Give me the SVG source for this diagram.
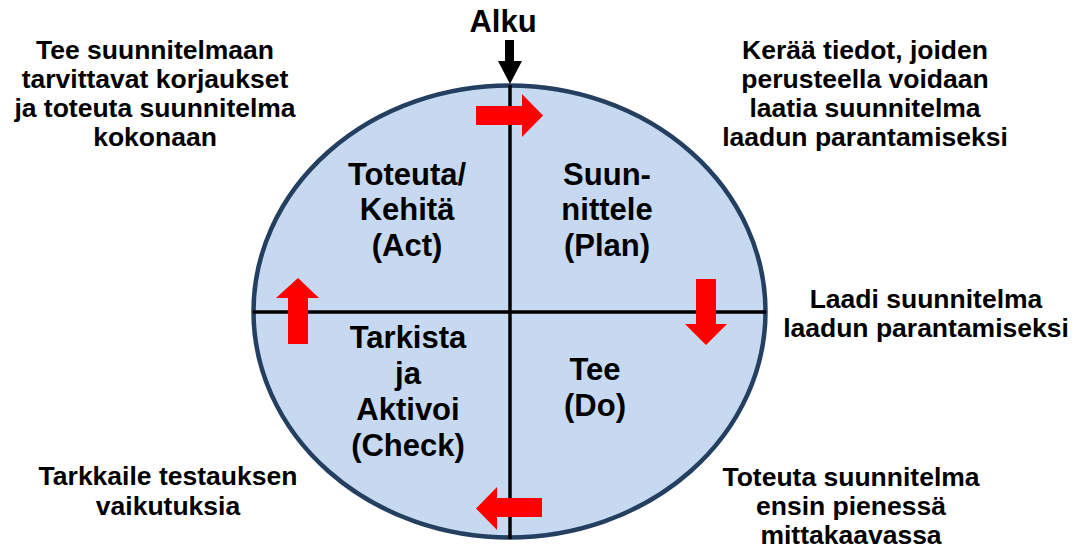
<svg xmlns="http://www.w3.org/2000/svg" width="1081" height="551" viewBox="0 0 1081 551">
  <style>
    .lbl { font-family: "Liberation Sans", Arial, sans-serif; font-weight: bold; font-size: 26.5px; fill: #000; text-anchor: middle; }
    .quad { font-family: "Liberation Sans", Arial, sans-serif; font-weight: bold; font-size: 31px; fill: #000; text-anchor: middle; }
    .title { font-family: "Liberation Sans", Arial, sans-serif; font-weight: bold; font-size: 31px; fill: #000; text-anchor: middle; }
    .red { fill: #FF0000; }
    .axis { stroke: #000; stroke-width: 3.5; fill: none; }
  </style>

  <!-- PDCA cycle -->
  <g id="cycle">
    <ellipse cx="509.5" cy="311.5" rx="256" ry="226" fill="#C6D9F1" stroke="#243F60" stroke-width="4.5"/>
  </g>

  <g id="connectors">
    <line class="axis" x1="510" y1="85" x2="510" y2="539"/>
    <line class="axis" x1="253" y1="312" x2="766" y2="312"/>
    <!-- start arrow -->
    <polygon fill="#000" points="505,40 514,40 514,61 522,61 510,84 498,61 505,61"/>
    <!-- direction arrows -->
    <polygon class="red" points="476,106 522,106 522,94 543,115.5 522,137 522,125 476,125"/>
    <polygon class="red" points="696,279 716,279 716,324 727,324 706,345 685,324 696,324"/>
    <polygon class="red" points="542,498 542,517 497,517 497,530 476,508.5 497,487 497,498"/>
    <polygon class="red" points="288,344 308,344 308,298 319,298 298,278 276,298 288,298"/>
  </g>

  <g id="start">
    <text class="title" x="503" y="32">Alku</text>
  </g>

  <g id="act">
    <text class="quad" x="407" y="185">Toteuta/</text>
    <text class="quad" x="407" y="220">Kehitä</text>
    <text class="quad" x="407" y="256">(Act)</text>
  </g>

  <g id="plan">
    <text class="quad" x="607" y="185">Suun-</text>
    <text class="quad" x="607" y="220">nittele</text>
    <text class="quad" x="607" y="256">(Plan)</text>
  </g>

  <g id="check">
    <text class="quad" x="408" y="348">Tarkista</text>
    <text class="quad" x="408" y="384">ja</text>
    <text class="quad" x="408" y="420">Aktivoi</text>
    <text class="quad" x="408" y="456">(Check)</text>
  </g>

  <g id="do">
    <text class="quad" x="595" y="380">Tee</text>
    <text class="quad" x="595" y="416">(Do)</text>
  </g>

  <g id="note-act">
    <text class="lbl" x="155" y="59">Tee suunnitelmaan</text>
    <text class="lbl" x="155" y="88">tarvittavat korjaukset</text>
    <text class="lbl" x="155" y="117">ja toteuta suunnitelma</text>
    <text class="lbl" x="155" y="146">kokonaan</text>
  </g>

  <g id="note-plan">
    <text class="lbl" x="865" y="59">Kerää tiedot, joiden</text>
    <text class="lbl" x="865" y="88">perusteella voidaan</text>
    <text class="lbl" x="865" y="117">laatia suunnitelma</text>
    <text class="lbl" x="865" y="146">laadun parantamiseksi</text>
  </g>

  <g id="note-plan2">
    <text class="lbl" x="926" y="308">Laadi suunnitelma</text>
    <text class="lbl" x="926" y="337">laadun parantamiseksi</text>
  </g>

  <g id="note-check">
    <text class="lbl" x="168" y="485">Tarkkaile testauksen</text>
    <text class="lbl" x="168" y="515">vaikutuksia</text>
  </g>

  <g id="note-do">
    <text class="lbl" x="851" y="486">Toteuta suunnitelma</text>
    <text class="lbl" x="851" y="515">ensin pienessä</text>
    <text class="lbl" x="851" y="544">mittakaavassa</text>
  </g>
</svg>
